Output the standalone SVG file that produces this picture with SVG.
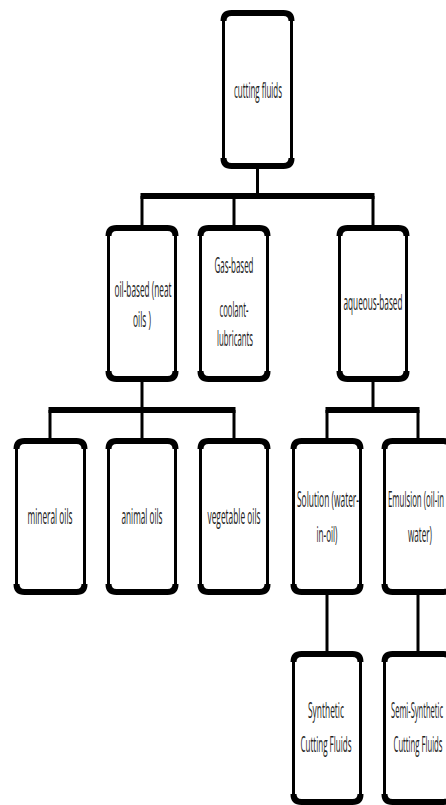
<svg xmlns="http://www.w3.org/2000/svg" width="446" height="805" viewBox="0 0 446 805">
<style>
.box{fill:#fff;stroke:#000;stroke-width:3}
.edge{fill:none;stroke:#000;stroke-width:6}
.ln{stroke:#000;stroke-width:3;fill:none}
.bar{stroke:#000;stroke-width:6;fill:none}
text{font-family:"Open Sans","Liberation Sans",sans-serif;font-size:22px;fill:#222;text-anchor:middle}
</style>
<rect width="446" height="805" fill="#fff"/>
<g id="connectors">
<line class="ln" x1="257.5" y1="169" x2="257.5" y2="196"/>
<line class="bar" x1="140.5" y1="196" x2="374.5" y2="196"/>
<line class="ln" x1="142" y1="196" x2="142" y2="225"/>
<line class="ln" x1="234" y1="196" x2="234" y2="225"/>
<line class="ln" x1="373" y1="196" x2="373" y2="225"/>
<line class="ln" x1="142" y1="382" x2="142" y2="410"/>
<line class="bar" x1="48.5" y1="410" x2="235.5" y2="410"/>
<line class="ln" x1="50" y1="410" x2="50" y2="438"/>
<line class="ln" x1="142" y1="410" x2="142" y2="438"/>
<line class="ln" x1="234" y1="410" x2="234" y2="438"/>
<line class="ln" x1="373" y1="382" x2="373" y2="410"/>
<line class="bar" x1="325.5" y1="410" x2="419.5" y2="410"/>
<line class="ln" x1="327" y1="410" x2="327" y2="438"/>
<line class="ln" x1="418" y1="410" x2="418" y2="438"/>
<line class="ln" x1="327" y1="595" x2="327" y2="651"/>
<line class="ln" x1="418" y1="595" x2="418" y2="651"/>
</g>
<g id="cutting-fluids">
<rect class="box" x="223.5" y="13" width="68" height="153" rx="8"/>
<path class="edge" d="M223.5,21 Q223.5,13 231.5,13 H283.5 Q291.5,13 291.5,21"/>
<path class="edge" d="M223.5,158 Q223.5,166 231.5,166 H283.5 Q291.5,166 291.5,158"/>
<text transform="translate(258 98) scale(0.4 1)" textLength="120" lengthAdjust="spacingAndGlyphs">cutting fluids</text>
</g>
<g id="oil-based">
<rect class="box" x="108.5" y="228" width="67" height="151" rx="8"/>
<path class="edge" d="M108.5,236 Q108.5,228 116.5,228 H167.5 Q175.5,228 175.5,236"/>
<path class="edge" d="M108.5,371 Q108.5,379 116.5,379 H167.5 Q175.5,379 175.5,371"/>
<text transform="translate(143 297) scale(0.4 1)" textLength="142.5" lengthAdjust="spacingAndGlyphs">oil-based (neat</text>
<text transform="translate(142 327) scale(0.4 1)" textLength="45" lengthAdjust="spacingAndGlyphs">oils )</text>
</g>
<g id="gas-based">
<rect class="box" x="200.5" y="228" width="67" height="151" rx="8"/>
<path class="edge" d="M200.5,236 Q200.5,228 208.5,228 H259.5 Q267.5,228 267.5,236"/>
<path class="edge" d="M200.5,371 Q200.5,379 208.5,379 H259.5 Q267.5,379 267.5,371"/>
<text transform="translate(234 273) scale(0.4 1)" textLength="97.5" lengthAdjust="spacingAndGlyphs">Gas-based</text>
<text transform="translate(234 317) scale(0.4 1)" textLength="72.5" lengthAdjust="spacingAndGlyphs">coolant-</text>
<text transform="translate(235 346) scale(0.4 1)" textLength="90" lengthAdjust="spacingAndGlyphs">lubricants</text>
</g>
<g id="aqueous-based">
<rect class="box" x="339.5" y="228" width="67" height="151" rx="8"/>
<path class="edge" d="M339.5,236 Q339.5,228 347.5,228 H398.5 Q406.5,228 406.5,236"/>
<path class="edge" d="M339.5,371 Q339.5,379 347.5,379 H398.5 Q406.5,379 406.5,371"/>
<text transform="translate(373 310) scale(0.4 1)" textLength="147.5" lengthAdjust="spacingAndGlyphs">aqueous-based</text>
</g>
<g id="mineral-oils">
<rect class="box" x="16.5" y="441" width="68" height="151" rx="8"/>
<path class="edge" d="M16.5,449 Q16.5,441 24.5,441 H76.5 Q84.5,441 84.5,449"/>
<path class="edge" d="M16.5,584 Q16.5,592 24.5,592 H76.5 Q84.5,592 84.5,584"/>
<text transform="translate(50 524) scale(0.4 1)" textLength="112.5" lengthAdjust="spacingAndGlyphs">mineral oils</text>
</g>
<g id="animal-oils">
<rect class="box" x="108.5" y="441" width="67" height="151" rx="8"/>
<path class="edge" d="M108.5,449 Q108.5,441 116.5,441 H167.5 Q175.5,441 175.5,449"/>
<path class="edge" d="M108.5,584 Q108.5,592 116.5,592 H167.5 Q175.5,592 175.5,584"/>
<text transform="translate(142 524) scale(0.4 1)" textLength="102.5" lengthAdjust="spacingAndGlyphs">animal oils</text>
</g>
<g id="vegetable-oils">
<rect class="box" x="200.5" y="441" width="67" height="151" rx="8"/>
<path class="edge" d="M200.5,449 Q200.5,441 208.5,441 H259.5 Q267.5,441 267.5,449"/>
<path class="edge" d="M200.5,584 Q200.5,592 208.5,592 H259.5 Q267.5,592 267.5,584"/>
<text transform="translate(234 524) scale(0.4 1)" textLength="132.5" lengthAdjust="spacingAndGlyphs">vegetable oils</text>
</g>
<g id="solution">
<rect class="box" x="293.5" y="441" width="67" height="151" rx="8"/>
<path class="edge" d="M293.5,449 Q293.5,441 301.5,441 H352.5 Q360.5,441 360.5,449"/>
<path class="edge" d="M293.5,584 Q293.5,592 301.5,592 H352.5 Q360.5,592 360.5,584"/>
<text transform="translate(328 507) scale(0.4 1)" textLength="155" lengthAdjust="spacingAndGlyphs">Solution (water-</text>
<text transform="translate(327 542) scale(0.4 1)" textLength="52.5" lengthAdjust="spacingAndGlyphs">in-oil)</text>
</g>
<g id="emulsion">
<rect class="box" x="384.5" y="441" width="67" height="151" rx="8"/>
<path class="edge" d="M384.5,449 Q384.5,441 392.5,441 H443.5 Q451.5,441 451.5,449"/>
<path class="edge" d="M384.5,584 Q384.5,592 392.5,592 H443.5 Q451.5,592 451.5,584"/>
<text transform="translate(416 507) scale(0.32 1)" textLength="175" lengthAdjust="spacingAndGlyphs">Emulsion (oil-in</text>
<text transform="translate(420 542) scale(0.4 1)" textLength="60" lengthAdjust="spacingAndGlyphs">water)</text>
</g>
<g id="synthetic">
<rect class="box" x="293.5" y="654" width="67" height="148" rx="8"/>
<path class="edge" d="M293.5,662 Q293.5,654 301.5,654 H352.5 Q360.5,654 360.5,662"/>
<path class="edge" d="M293.5,794 Q293.5,802 301.5,802 H352.5 Q360.5,802 360.5,794"/>
<text transform="translate(326 718) scale(0.4 1)" textLength="90" lengthAdjust="spacingAndGlyphs">Synthetic</text>
<text transform="translate(326 752) scale(0.4 1)" textLength="127.5" lengthAdjust="spacingAndGlyphs">Cutting Fluids</text>
</g>
<g id="semi-synthetic">
<rect class="box" x="384.5" y="654" width="67" height="148" rx="8"/>
<path class="edge" d="M384.5,662 Q384.5,654 392.5,654 H443.5 Q451.5,654 451.5,662"/>
<path class="edge" d="M384.5,794 Q384.5,802 392.5,802 H443.5 Q451.5,802 451.5,794"/>
<text transform="translate(417 718) scale(0.32 1)" textLength="162.5" lengthAdjust="spacingAndGlyphs">Semi-Synthetic</text>
<text transform="translate(418 752) scale(0.32 1)" textLength="153" lengthAdjust="spacingAndGlyphs">Cutting Fluids</text>
</g>
</svg>
